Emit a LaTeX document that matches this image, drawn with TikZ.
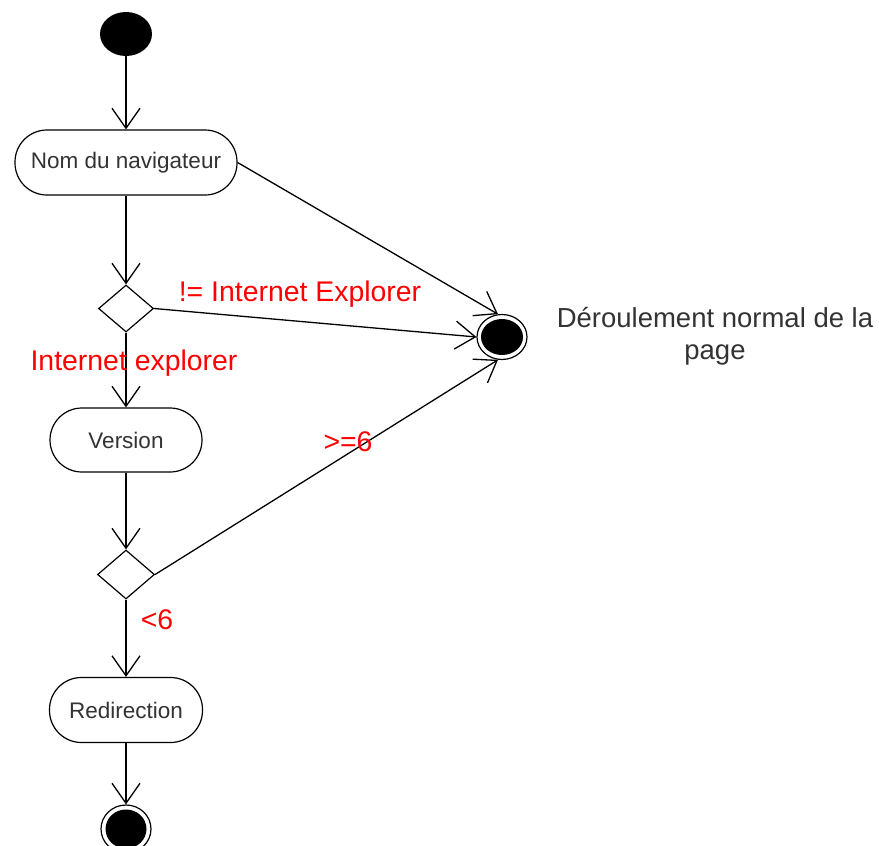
\documentclass[tikz,border=0pt]{standalone}
\usepackage{fontspec}
\setmainfont{Liberation Sans}
\usetikzlibrary{arrows.meta,shapes.geometric}
\begin{document}
\begin{tikzpicture}[x=1pt,y=-1pt,
  every node/.style={inner sep=0pt},
  act/.style={draw, line width=1.2pt, fill=white, rounded corners=32pt, font=\fontsize{22.5}{26}\selectfont, text=black!80},
  dec/.style={draw, diamond, line width=1.2pt, fill=white},
  flow/.style={line width=1.3pt, -{Straight Barb[length=20pt,width=28pt,line width=1.3pt]}},
  guard/.style={text=red, font=\fontsize{28.4}{32}\selectfont},
  note/.style={font=\fontsize{27.5}{32}\selectfont, text=black!80, align=center},
  finring/.style={ellipse, draw, line width=1.2pt, fill=white},
  findot/.style={ellipse, fill=black}]
\useasboundingbox (0,0) rectangle (879,846);

\node[ellipse, fill=black, minimum width=52pt, minimum height=44pt] (start) at (126,34) {};
\node[act, minimum width=222pt, minimum height=65pt] (nom) at (126,162.5) {Nom du navigateur};
\node[dec, minimum width=55pt, minimum height=47pt] (d1) at (126,308.5) {};
\node[act, minimum width=152pt, minimum height=64pt] (ver) at (126,440) {Version};
\node[dec, minimum width=57pt, minimum height=49pt] (d2) at (126,574.5) {};
\node[act, minimum width=153pt, minimum height=65pt] (red) at (126,710) {Redirection};

\node[finring, minimum width=50pt, minimum height=45pt] (fin1) at (502,337) {};
\node[findot, minimum width=42pt, minimum height=36pt] (fin1c) at (502,337) {};
\node[finring, minimum width=50pt, minimum height=48pt] (fin2) at (126,829) {};
\node[findot, minimum width=41pt, minimum height=39pt] (fin2c) at (126,829) {};

\node[note] (txt) at (715,336) {Déroulement normal de la\\page};

\draw[flow] (start) -- (nom);
\draw[flow] (nom) -- (d1.north);
\draw[flow] (nom.east) -- (fin1.100);
\draw[flow] (d1.east) -- (fin1.west);
\draw[flow] (d2.east) -- (fin1.-100);
\draw[flow] (d1.south) -- (ver);
\draw[flow] (ver) -- (d2.north);
\draw[flow] (d2.south) -- (red);
\draw[flow] (red) -- (fin2);

\node[guard] (g1) at (300,294) {!= Internet Explorer};
\node[guard] (g2) at (134,363) {Internet explorer};
\node[guard] (g3) at (348,442) {>=6};
\node[guard] (g4) at (157,620) {<6};
\end{tikzpicture}
\end{document}
